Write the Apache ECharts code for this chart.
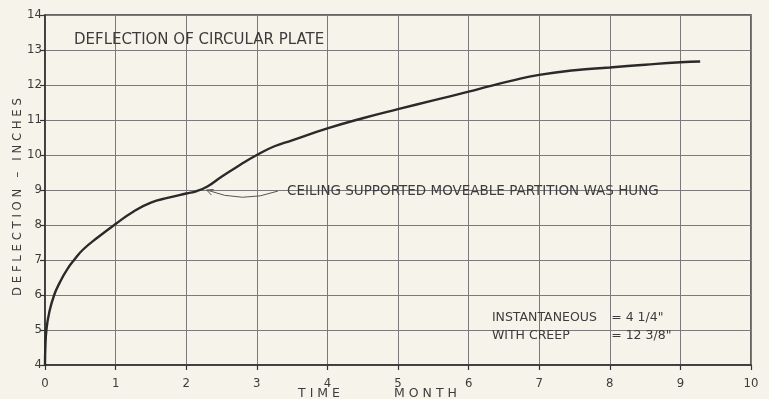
<!DOCTYPE html>
<html>
<head>
<meta charset="utf-8">
<script src="https://cdn.jsdelivr.net/npm/echarts@6/dist/echarts.min.js"></script>
<style>
  html, body { margin: 0; padding: 0; background: #f6f4ea; }
  #chart { width: 769px; height: 399px; }
</style>
</head>
<body>
<div id="chart"></div>
<script>
// Time since loading (months)
const months = [0, 0.005, 0.02, 0.06, 0.13, 0.21, 0.31, 0.42, 0.54, 0.75, 1.0, 1.25, 1.5, 1.75, 2.0, 2.15, 2.3, 2.5, 2.75, 3.0, 3.25, 3.5, 4.0, 4.5, 5.0, 5.5, 6.0, 6.3, 6.6, 7.0, 7.5, 8.0, 8.5, 9.0, 9.28];
// Measured deflection (inches)
const deflection = [4.0, 4.5, 5.0, 5.5, 6.0, 6.36, 6.72, 7.02, 7.3, 7.65, 8.03, 8.38, 8.64, 8.78, 8.9, 8.97, 9.1, 9.38, 9.7, 10.0, 10.25, 10.42, 10.76, 11.05, 11.31, 11.56, 11.81, 11.97, 12.12, 12.29, 12.42, 12.5, 12.58, 12.65, 12.67];

const xTicks = [0, 1, 2, 3, 4, 5, 6, 7, 8, 9, 10];
const yTicks = [4, 5, 6, 7, 8, 9, 10, 11, 12, 13, 14];

const titleText = 'DEFLECTION OF CIRCULAR PLATE';
const yAxisTitle = 'D E F L E C T I O N   –   I N C H E S';
const xAxisWords = ['T I M E', 'M O N T H'];
const noteText = 'CEILING SUPPORTED MOVEABLE PARTITION WAS HUNG';
const noteAt = { tail: [3.30, 8.97], ctrl: [2.80, 8.60], head: [2.29, 9.0] };
const summaryLabels = ['INSTANTANEOUS', 'WITH CREEP'];
const summaryValues = ['= 4 1/4"', '= 12 3/8"'];

const ink = '#2a2a2a';
const textInk = '#3c3c3c';
const numFont = '"DejaVu Sans Condensed", "DejaVu Sans", sans-serif';
const font = '"DejaVu Sans", sans-serif';

const chart = echarts.init(document.getElementById('chart'), null, { renderer: 'canvas' });

const points = months.map((m, i) => [m, deflection[i]]);

chart.setOption({
  backgroundColor: '#f6f4ea',
  animation: false,
  grid: {
    left: 45, right: 18, top: 15, bottom: 34,
    show: true, borderColor: '#333', borderWidth: 1.5, backgroundColor: 'transparent'
  },
  xAxis: {
    type: 'value', min: xTicks[0], max: xTicks[xTicks.length - 1], interval: 1,
    axisLine: { show: true, lineStyle: { color: '#333', width: 1.5 } },
    axisTick: { show: true, inside: false, length: 5, lineStyle: { color: '#333', width: 1.2 } },
    axisLabel: { color: textInk, fontFamily: numFont, fontSize: 13, margin: 12 },
    splitLine: { show: true, lineStyle: { color: '#7a7a7a', width: 1 } }
  },
  yAxis: {
    type: 'value', min: yTicks[0], max: yTicks[yTicks.length - 1], interval: 1,
    axisLine: { show: true, lineStyle: { color: '#333', width: 1.5 } },
    axisTick: { show: true, inside: false, length: 5, lineStyle: { color: '#333', width: 1.2 } },
    axisLabel: { color: textInk, fontFamily: numFont, fontSize: 13, margin: 3 },
    splitLine: { show: true, lineStyle: { color: '#7a7a7a', width: 1 } }
  },
  series: [{
    type: 'line',
    data: points,
    smooth: 0.5,
    symbol: 'none',
    lineStyle: { color: ink, width: 2.4 },
    z: 5
  }]
});

// Annotations placed through the grid's coordinate system
const px = p => chart.convertToPixel({ gridIndex: 0 }, p);
const tail = px(noteAt.tail), ctrl = px(noteAt.ctrl), head = px(noteAt.head);
const dx = head[0] - ctrl[0], dy = head[1] - ctrl[1];
const len = Math.hypot(dx, dy);
const ux = dx / len, uy = dy / len;
const arm = 7, spread = 0.45;
const rot = (a) => [
  head[0] - arm * (ux * Math.cos(a) - uy * Math.sin(a)),
  head[1] - arm * (ux * Math.sin(a) + uy * Math.cos(a))
];
const gridRect = chart.getModel().getComponent('grid').coordinateSystem.getRect();

const summaryAnchor = px([6.33, 5.34]);
const summaryValueX = px([8.02, 5.34])[0];

chart.setOption({
  graphic: [
    {
      type: 'text', x: gridRect.x + 29, y: gridRect.y + 25,
      style: { text: titleText, fill: textInk, font: '15px ' + font, verticalAlign: 'middle' }
    },
    {
      type: 'text', x: 18, y: gridRect.y + gridRect.height / 2 + 7, rotation: Math.PI / 2,
      style: { text: yAxisTitle, fill: textInk, font: '11.7px ' + font, align: 'center', verticalAlign: 'middle' }
    },
    {
      type: 'text', x: 319, y: 394,
      style: { text: xAxisWords[0], fill: textInk, font: '12.5px ' + font, align: 'center', verticalAlign: 'middle' }
    },
    {
      type: 'text', x: 425.5, y: 394,
      style: { text: xAxisWords[1], fill: textInk, font: '12.5px ' + font, align: 'center', verticalAlign: 'middle' }
    },
    {
      type: 'bezierCurve',
      shape: { x1: tail[0], y1: tail[1], x2: head[0], y2: head[1], cpx1: ctrl[0], cpy1: ctrl[1] },
      style: { stroke: '#555', lineWidth: 1, fill: null }
    },
    {
      type: 'polyline',
      shape: { points: [rot(spread), head, rot(-spread)] },
      style: { stroke: '#555', lineWidth: 1, fill: null }
    },
    {
      type: 'text', x: tail[0] + 9, y: tail[1],
      style: { text: noteText, fill: textInk, font: '13.5px ' + font, verticalAlign: 'middle' }
    },
    {
      type: 'text', x: summaryAnchor[0], y: summaryAnchor[1],
      style: { text: summaryLabels[0], fill: textInk, font: '12.5px ' + font, verticalAlign: 'middle' }
    },
    {
      type: 'text', x: summaryAnchor[0], y: summaryAnchor[1] + 18,
      style: { text: summaryLabels[1], fill: textInk, font: '12.5px ' + font, verticalAlign: 'middle' }
    },
    {
      type: 'text', x: summaryValueX, y: summaryAnchor[1],
      style: { text: summaryValues[0], fill: textInk, font: '12.5px ' + font, verticalAlign: 'middle' }
    },
    {
      type: 'text', x: summaryValueX, y: summaryAnchor[1] + 18,
      style: { text: summaryValues[1], fill: textInk, font: '12.5px ' + font, verticalAlign: 'middle' }
    }
  ]
});
</script>
</body>
</html>
